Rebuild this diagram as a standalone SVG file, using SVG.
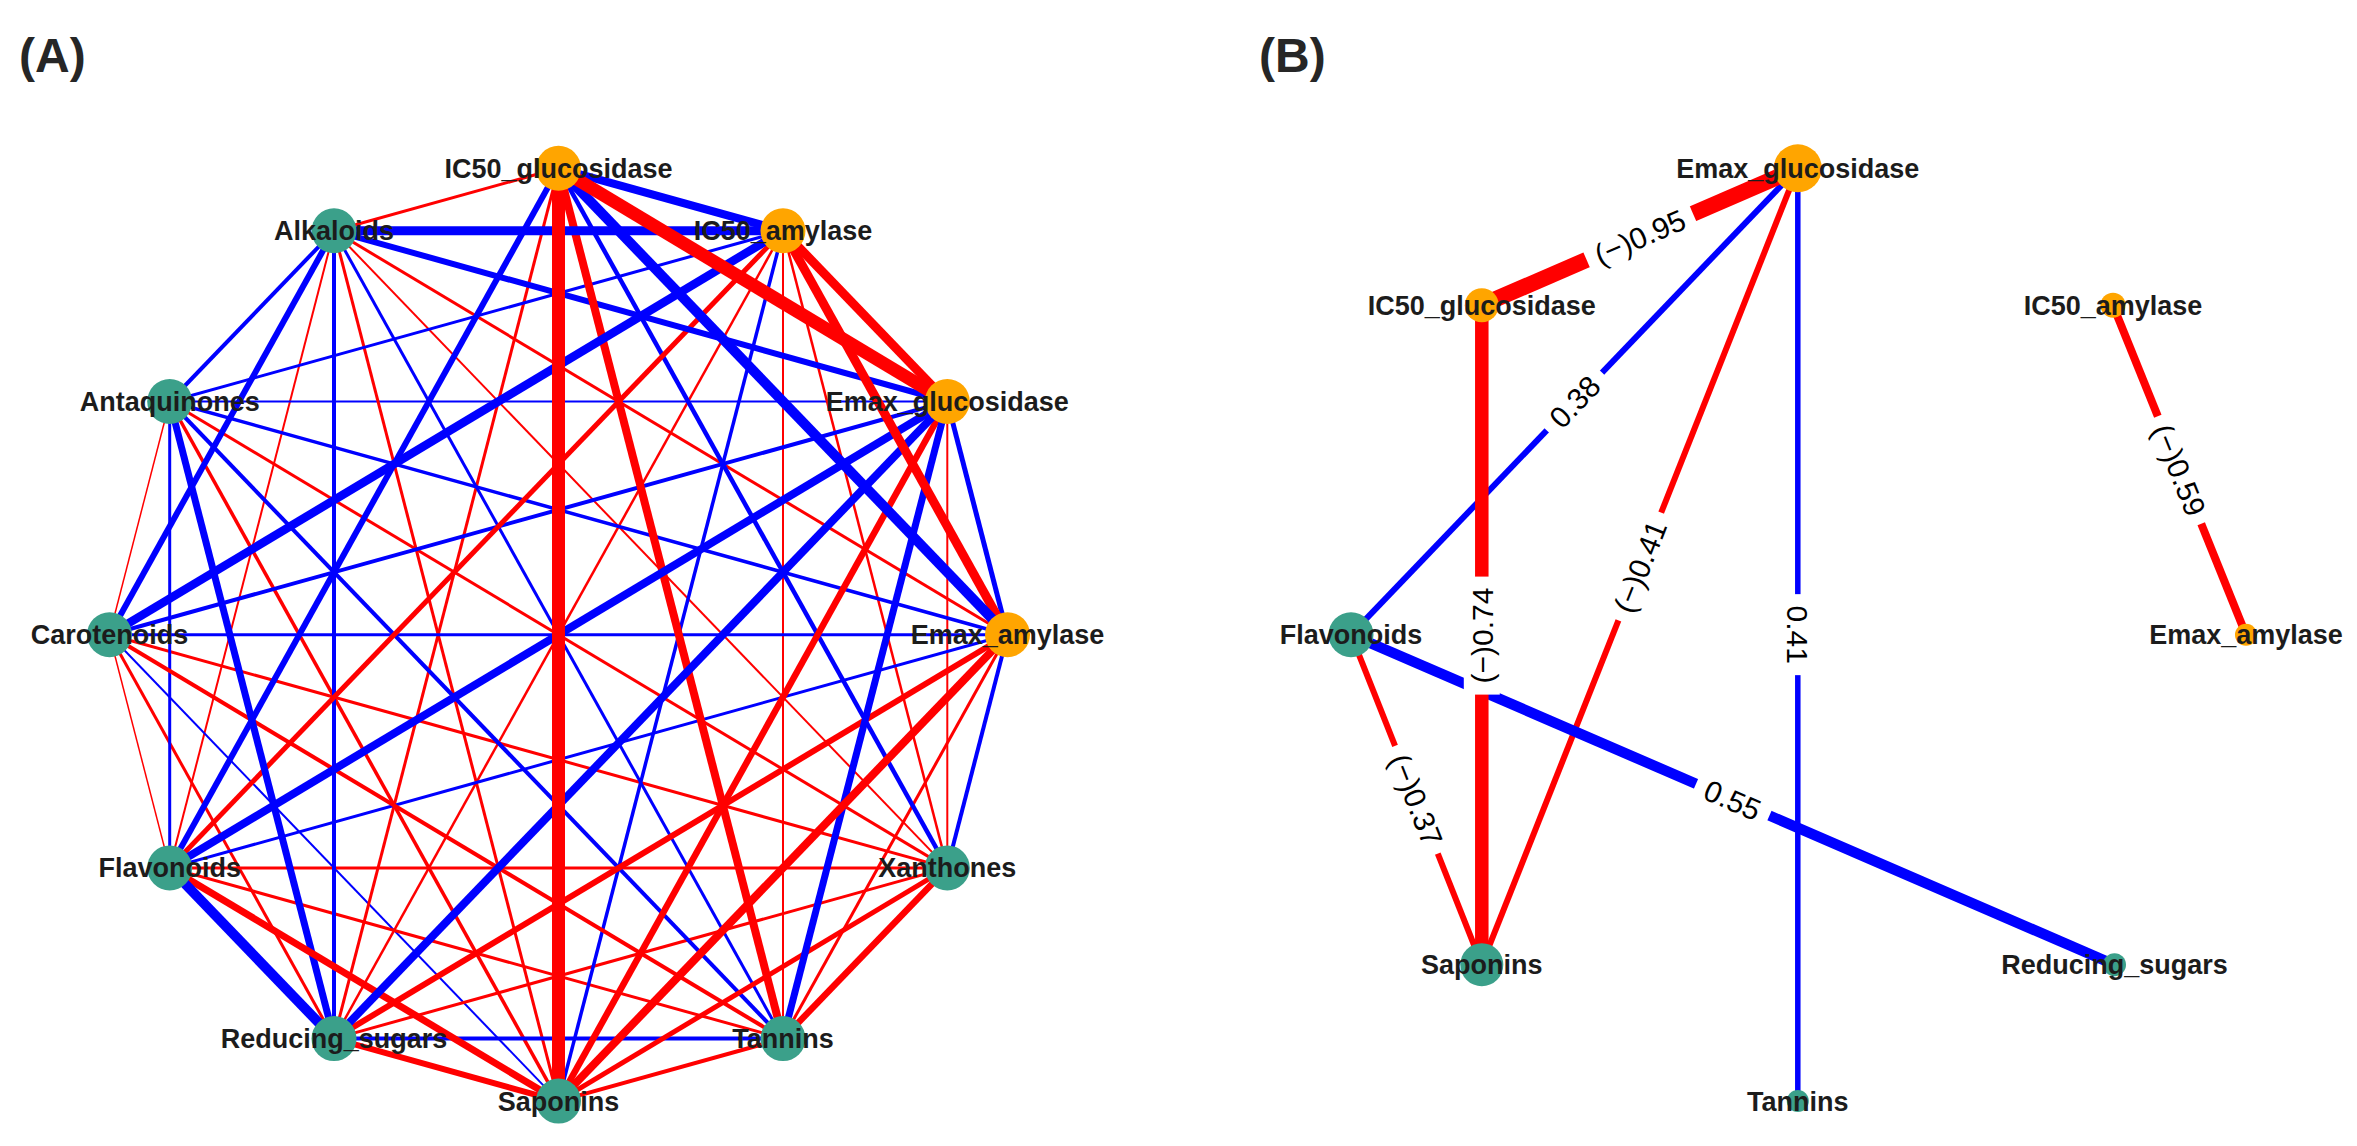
<svg xmlns="http://www.w3.org/2000/svg" width="2357" height="1146" viewBox="0 0 2357 1146">
<style>
.r{stroke:#FF0000;fill:none}
.b{stroke:#0000FF;fill:none}
.og{fill:#FFA500}
.gn{fill:#3BA08A}
.lbl{font-family:"Liberation Sans",Arial,sans-serif;font-weight:bold;font-size:27px;fill:#1c1c1c;text-anchor:middle}
.pl{font-family:"Liberation Sans",Arial,sans-serif;font-weight:bold;font-size:48px;fill:#262626}
.el{font-family:"Liberation Sans",Arial,sans-serif;font-size:30px;fill:#000;text-anchor:middle}
.bg{fill:#FFFFFF}
</style>
<rect x="0" y="0" width="2357" height="1146" fill="#FFFFFF"/>
<text class="pl" x="19" y="72">(A)</text>
<text class="pl" x="1259" y="72">(B)</text>
<g id="connectors-A">
<line class="r" stroke-width="1.5" x1="169.7" y1="867.9" x2="109.5" y2="634.7"/>
<line class="r" stroke-width="1.5" x1="109.5" y1="634.7" x2="169.7" y2="401.5"/>
<line class="r" stroke-width="2" x1="783" y1="230.8" x2="783" y2="1038.6"/>
<line class="r" stroke-width="2" x1="947.3" y1="401.5" x2="947.3" y2="867.9"/>
<line class="r" stroke-width="2" x1="947.3" y1="867.9" x2="334" y2="230.8"/>
<line class="r" stroke-width="2" x1="169.7" y1="867.9" x2="334" y2="230.8"/>
<line class="b" stroke-width="2" x1="947.3" y1="401.5" x2="169.7" y2="401.5"/>
<line class="b" stroke-width="2" x1="558.5" y1="1101.1" x2="109.5" y2="634.7"/>
<line class="r" stroke-width="2.5" x1="783" y1="230.8" x2="947.3" y2="867.9"/>
<line class="r" stroke-width="2.5" x1="783" y1="230.8" x2="334" y2="1038.6"/>
<line class="r" stroke-width="3" x1="558.5" y1="168.3" x2="334" y2="1038.6"/>
<line class="r" stroke-width="3" x1="558.5" y1="168.3" x2="334" y2="230.8"/>
<line class="r" stroke-width="3" x1="1007.5" y1="634.7" x2="783" y2="1038.6"/>
<line class="r" stroke-width="3" x1="1007.5" y1="634.7" x2="334" y2="230.8"/>
<line class="r" stroke-width="3" x1="947.3" y1="867.9" x2="334" y2="1038.6"/>
<line class="r" stroke-width="3" x1="947.3" y1="867.9" x2="169.7" y2="867.9"/>
<line class="r" stroke-width="3" x1="947.3" y1="867.9" x2="109.5" y2="634.7"/>
<line class="r" stroke-width="3" x1="947.3" y1="867.9" x2="169.7" y2="401.5"/>
<line class="r" stroke-width="3" x1="783" y1="1038.6" x2="169.7" y2="867.9"/>
<line class="r" stroke-width="3" x1="558.5" y1="1101.1" x2="334" y2="230.8"/>
<line class="r" stroke-width="3" x1="334" y1="1038.6" x2="109.5" y2="634.7"/>
<line class="b" stroke-width="3" x1="783" y1="230.8" x2="169.7" y2="401.5"/>
<line class="b" stroke-width="3" x1="1007.5" y1="634.7" x2="169.7" y2="867.9"/>
<line class="b" stroke-width="3" x1="1007.5" y1="634.7" x2="109.5" y2="634.7"/>
<line class="b" stroke-width="3" x1="783" y1="1038.6" x2="334" y2="230.8"/>
<line class="b" stroke-width="3" x1="169.7" y1="867.9" x2="169.7" y2="401.5"/>
<line class="b" stroke-width="3.5" x1="783" y1="230.8" x2="558.5" y2="1101.1"/>
<line class="b" stroke-width="3.5" x1="1007.5" y1="634.7" x2="169.7" y2="401.5"/>
<line class="r" stroke-width="3.5" x1="558.5" y1="1101.1" x2="169.7" y2="401.5"/>
<line class="b" stroke-width="4" x1="947.3" y1="401.5" x2="109.5" y2="634.7"/>
<line class="b" stroke-width="4" x1="1007.5" y1="634.7" x2="947.3" y2="867.9"/>
<line class="b" stroke-width="4" x1="783" y1="1038.6" x2="334" y2="1038.6"/>
<line class="b" stroke-width="4" x1="783" y1="1038.6" x2="169.7" y2="401.5"/>
<line class="b" stroke-width="4" x1="334" y1="1038.6" x2="334" y2="230.8"/>
<line class="b" stroke-width="4" x1="169.7" y1="401.5" x2="334" y2="230.8"/>
<line class="r" stroke-width="4" x1="783" y1="1038.6" x2="558.5" y2="1101.1"/>
<line class="r" stroke-width="4" x1="783" y1="1038.6" x2="109.5" y2="634.7"/>
<line class="b" stroke-width="4.5" x1="558.5" y1="168.3" x2="947.3" y2="867.9"/>
<line class="b" stroke-width="5" x1="947.3" y1="401.5" x2="1007.5" y2="634.7"/>
<line class="r" stroke-width="5" x1="783" y1="230.8" x2="169.7" y2="867.9"/>
<line class="r" stroke-width="5" x1="947.3" y1="867.9" x2="558.5" y2="1101.1"/>
<line class="b" stroke-width="6" x1="558.5" y1="168.3" x2="169.7" y2="867.9"/>
<line class="b" stroke-width="6" x1="947.3" y1="401.5" x2="334" y2="230.8"/>
<line class="b" stroke-width="6" x1="109.5" y1="634.7" x2="334" y2="230.8"/>
<line class="r" stroke-width="6" x1="1007.5" y1="634.7" x2="334" y2="1038.6"/>
<line class="r" stroke-width="6" x1="558.5" y1="1101.1" x2="334" y2="1038.6"/>
<line class="r" stroke-width="6.5" x1="947.3" y1="401.5" x2="558.5" y2="1101.1"/>
<line class="r" stroke-width="6.5" x1="947.3" y1="867.9" x2="783" y2="1038.6"/>
<line class="b" stroke-width="7" x1="947.3" y1="401.5" x2="783" y2="1038.6"/>
<line class="b" stroke-width="7" x1="334" y1="1038.6" x2="169.7" y2="401.5"/>
<line class="r" stroke-width="7" x1="558.5" y1="1101.1" x2="169.7" y2="867.9"/>
<line class="r" stroke-width="8" x1="558.5" y1="168.3" x2="783" y2="1038.6"/>
<line class="r" stroke-width="8" x1="1007.5" y1="634.7" x2="558.5" y2="1101.1"/>
<line class="b" stroke-width="8" x1="558.5" y1="168.3" x2="783" y2="230.8"/>
<line class="b" stroke-width="8" x1="947.3" y1="401.5" x2="334" y2="1038.6"/>
<line class="b" stroke-width="8" x1="947.3" y1="401.5" x2="169.7" y2="867.9"/>
<line class="r" stroke-width="9" x1="783" y1="230.8" x2="947.3" y2="401.5"/>
<line class="r" stroke-width="9" x1="783" y1="230.8" x2="1007.5" y2="634.7"/>
<line class="b" stroke-width="8.5" x1="783" y1="230.8" x2="109.5" y2="634.7"/>
<line class="b" stroke-width="9" x1="783" y1="230.8" x2="334" y2="230.8"/>
<line class="b" stroke-width="10" x1="558.5" y1="168.3" x2="1007.5" y2="634.7"/>
<line class="b" stroke-width="10" x1="334" y1="1038.6" x2="169.7" y2="867.9"/>
<line class="r" stroke-width="13" x1="558.5" y1="168.3" x2="947.3" y2="401.5"/>
<line class="r" stroke-width="13" x1="558.5" y1="168.3" x2="558.5" y2="1101.1"/>
</g>
<g id="node-A-IC50_glucosidase"><circle class="og" cx="558.5" cy="168.3" r="22.5"/><text class="lbl" x="558.5" y="177.8">IC50_glucosidase</text></g>
<g id="node-A-IC50_amylase"><circle class="og" cx="783" cy="230.8" r="22.5"/><text class="lbl" x="783" y="240.3">IC50_amylase</text></g>
<g id="node-A-Emax_glucosidase"><circle class="og" cx="947.3" cy="401.5" r="22.5"/><text class="lbl" x="947.3" y="411">Emax_glucosidase</text></g>
<g id="node-A-Emax_amylase"><circle class="og" cx="1007.5" cy="634.7" r="22.5"/><text class="lbl" x="1007.5" y="644.2">Emax_amylase</text></g>
<g id="node-A-Xanthones"><circle class="gn" cx="947.3" cy="867.9" r="22.5"/><text class="lbl" x="947.3" y="877.4">Xanthones</text></g>
<g id="node-A-Tannins"><circle class="gn" cx="783" cy="1038.6" r="22.5"/><text class="lbl" x="783" y="1048.1">Tannins</text></g>
<g id="node-A-Saponins"><circle class="gn" cx="558.5" cy="1101.1" r="22.5"/><text class="lbl" x="558.5" y="1110.6">Saponins</text></g>
<g id="node-A-Reducing_sugars"><circle class="gn" cx="334" cy="1038.6" r="22.5"/><text class="lbl" x="334" y="1048.1">Reducing_sugars</text></g>
<g id="node-A-Flavonoids"><circle class="gn" cx="169.7" cy="867.9" r="22.5"/><text class="lbl" x="169.7" y="877.4">Flavonoids</text></g>
<g id="node-A-Carotenoids"><circle class="gn" cx="109.5" cy="634.7" r="22.5"/><text class="lbl" x="109.5" y="644.2">Carotenoids</text></g>
<g id="node-A-Antaquinones"><circle class="gn" cx="169.7" cy="401.5" r="22.5"/><text class="lbl" x="169.7" y="411">Antaquinones</text></g>
<g id="node-A-Alkaloids"><circle class="gn" cx="334" cy="230.8" r="22.5"/><text class="lbl" x="334" y="240.3">Alkaloids</text></g>
<g id="connectors-B">
<line class="b" stroke-width="6" x1="1797.8" y1="168.3" x2="1351" y2="634.7"/>
<line class="r" stroke-width="6" x1="1797.8" y1="168.3" x2="1481.8" y2="964.7"/>
<line class="b" stroke-width="5.5" x1="1797.8" y1="168.3" x2="1797.8" y2="1101"/>
<line class="r" stroke-width="6" x1="1351" y1="634.7" x2="1481.8" y2="964.7"/>
<line class="r" stroke-width="8" x1="2113" y1="305.2" x2="2246" y2="634.7"/>
<line class="b" stroke-width="10.5" x1="1351" y1="634.7" x2="2114.5" y2="964.7"/>
<line class="r" stroke-width="13.5" x1="1481.8" y1="305.2" x2="1481.8" y2="964.7"/>
<line class="r" stroke-width="16" x1="1481.8" y1="305.2" x2="1797.8" y2="168.3"/>
<g transform="translate(1639.8,236.75) rotate(-23.4)"><rect class="bg" x="-58" y="-18" width="116" height="36"/><text class="el" x="0" y="11">(−)0.95</text></g>
<g transform="translate(1574.4,401.5) rotate(-46.2)"><rect class="bg" x="-40" y="-18" width="80" height="36"/><text class="el" x="0" y="11">0.38</text></g>
<g transform="translate(1639.8,566.5) rotate(-68.4)"><rect class="bg" x="-58" y="-18" width="116" height="36"/><text class="el" x="0" y="11">(−)0.41</text></g>
<g transform="translate(1797.8,634.65) rotate(90)"><rect class="bg" x="-40.5" y="-18" width="81" height="36"/><text class="el" x="0" y="11">0.41</text></g>
<g transform="translate(1481.8,635.6) rotate(-90)"><rect class="bg" x="-59" y="-18" width="118" height="36"/><text class="el" x="0" y="11">(−)0.74</text></g>
<g transform="translate(2179.5,469.95) rotate(68)"><rect class="bg" x="-58" y="-18" width="116" height="36"/><text class="el" x="0" y="11">(−)0.59</text></g>
<g transform="translate(1416.4,799.7) rotate(68.4)"><rect class="bg" x="-58" y="-18" width="116" height="36"/><text class="el" x="0" y="11">(−)0.37</text></g>
<g transform="translate(1732.75,799.7) rotate(23.4)"><rect class="bg" x="-40" y="-18" width="80" height="36"/><text class="el" x="0" y="11">0.55</text></g>
</g>
<g id="node-B-Emax_glucosidase"><circle class="og" cx="1797.8" cy="168.3" r="24"/><text class="lbl" x="1797.8" y="177.8">Emax_glucosidase</text></g>
<g id="node-B-IC50_glucosidase"><circle class="og" cx="1481.8" cy="305.2" r="17"/><text class="lbl" x="1481.8" y="314.7">IC50_glucosidase</text></g>
<g id="node-B-IC50_amylase"><circle class="og" cx="2113" cy="305.2" r="12.5"/><text class="lbl" x="2113" y="314.7">IC50_amylase</text></g>
<g id="node-B-Flavonoids"><circle class="gn" cx="1351" cy="634.7" r="22.5"/><text class="lbl" x="1351" y="644.2">Flavonoids</text></g>
<g id="node-B-Emax_amylase"><circle class="og" cx="2246" cy="634.7" r="11"/><text class="lbl" x="2246" y="644.2">Emax_amylase</text></g>
<g id="node-B-Saponins"><circle class="gn" cx="1481.8" cy="964.7" r="21.5"/><text class="lbl" x="1481.8" y="974.2">Saponins</text></g>
<g id="node-B-Reducing_sugars"><circle class="gn" cx="2114.5" cy="964.7" r="11.5"/><text class="lbl" x="2114.5" y="974.2">Reducing_sugars</text></g>
<g id="node-B-Tannins"><circle class="gn" cx="1797.8" cy="1101" r="11"/><text class="lbl" x="1797.8" y="1110.5">Tannins</text></g>
</svg>
